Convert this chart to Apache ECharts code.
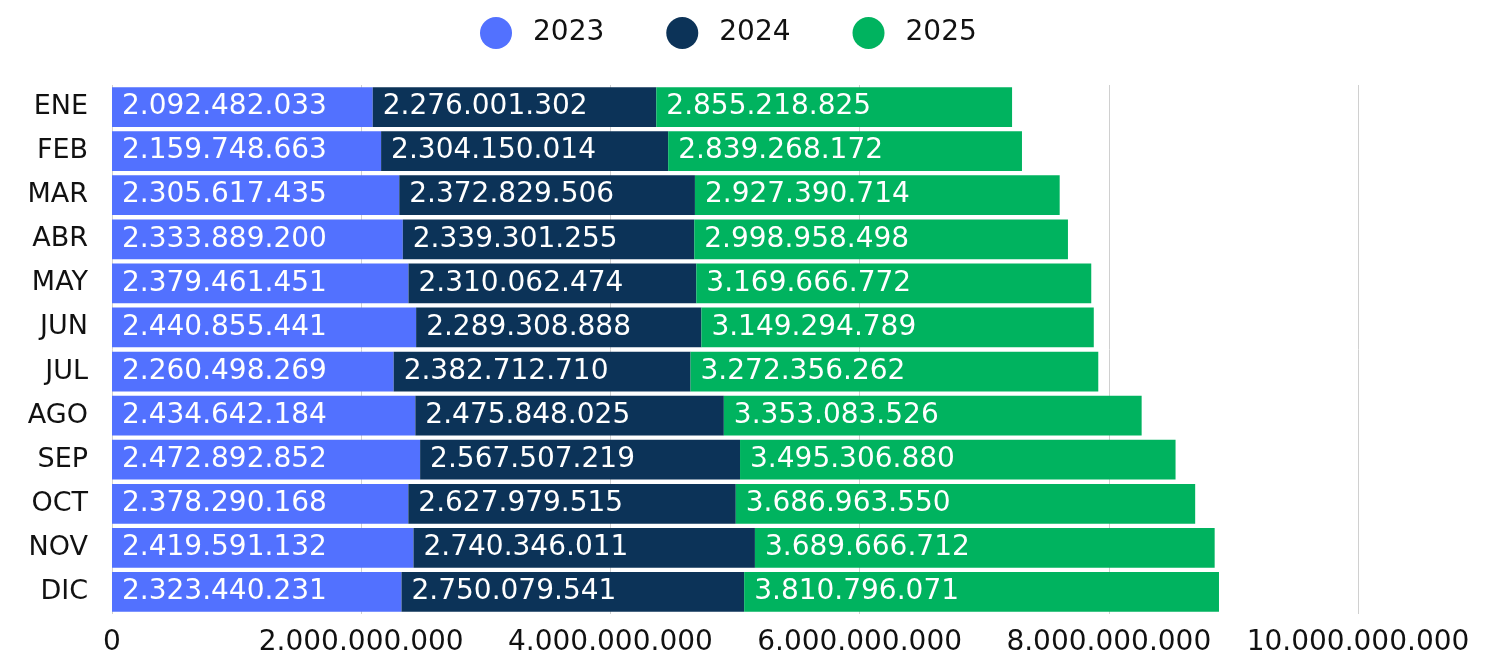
<!DOCTYPE html>
<html><head><meta charset="utf-8">
<script src="https://cdn.jsdelivr.net/npm/echarts@6/dist/echarts.min.js"></script>
<style>html,body{margin:0;padding:0;background:#fff}#c{width:1491px;height:657px}</style>
</head><body><div id="c"></div>
<script>
const categories = ['ENE','FEB','MAR','ABR','MAY','JUN','JUL','AGO','SEP','OCT','NOV','DIC'];
const s2023 = [2092482033,2159748663,2305617435,2333889200,2379461451,2440855441,2260498269,2434642184,2472892852,2378290168,2419591132,2323440231];
const s2024 = [2276001302,2304150014,2372829506,2339301255,2310062474,2289308888,2382712710,2475848025,2567507219,2627979515,2740346011,2750079541];
const s2025 = [2855218825,2839268172,2927390714,2998958498,3169666772,3149294789,3272356262,3353083526,3495306880,3686963550,3689666712,3810796071];
const seriesNames = ['2023','2024','2025'];
const colors = ['#5271FF','#0C3358','#00B35F'];
const fontFamily = '"DejaVu Sans", sans-serif';
function fmt(v){return String(Math.round(v)).replace(/\B(?=(\d{3})+(?!\d))/g,'.');}
const chart = echarts.init(document.getElementById('c'));
const data = [s2023,s2024,s2025];
chart.setOption({
  animation:false,
  textStyle:{fontFamily},
  legend:{top:12,left:475,itemWidth:32,itemHeight:32,itemGap:62,icon:'circle',
    textStyle:{fontSize:28,color:'#111',fontFamily,padding:[0,0,0,16]},data:seriesNames},
  grid:{left:112,right:133,top:85,bottom:43,containLabel:false},
  xAxis:{type:'value',min:0,max:10000000000,interval:2000000000,
    axisLabel:{fontSize:28,color:'#111',margin:15,formatter:fmt,fontFamily},
    splitLine:{show:true,lineStyle:{color:'#d0d0d0',width:1}},
    axisLine:{show:false},axisTick:{show:false}},
  yAxis:{type:'category',data:categories,inverse:true,
    axisLabel:{fontSize:27,color:'#111',margin:24,fontFamily},
    axisLine:{show:false},axisTick:{show:false}},
  series:data.map((d,i)=>({
    name:seriesNames[i],type:'bar',stack:'total',data:d,barCategoryGap:'10%',
    itemStyle:{color:colors[i]},
    label:{show:true,position:'insideLeft',distance:10,color:'#fff',fontSize:28,fontFamily,
      formatter:p=>fmt(p.value)}
  }))
});
</script></body></html>
